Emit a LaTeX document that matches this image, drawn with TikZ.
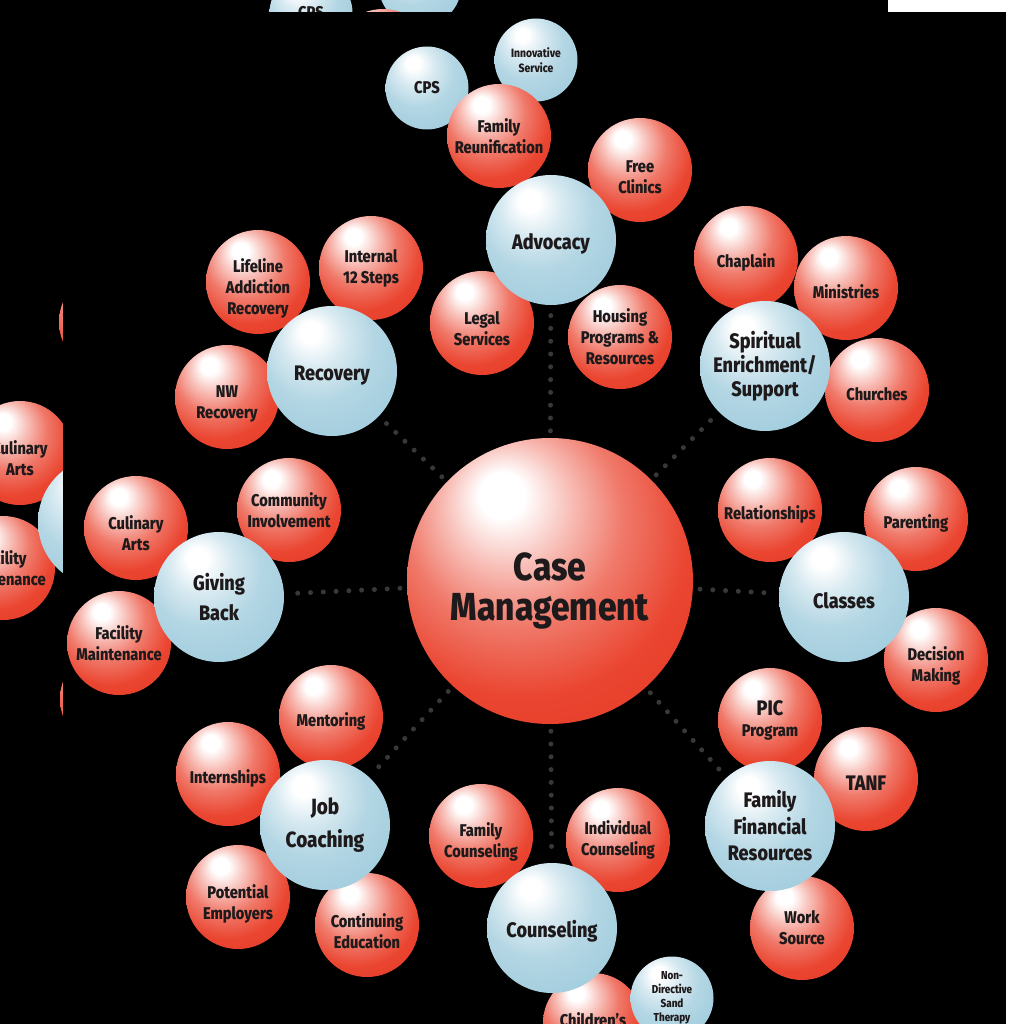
\documentclass[tikz,border=0pt]{standalone}
\usepackage{fontspec}
\newfontfamily\lbl{Fira Sans}[FakeStretch=0.86, BoldFont={Fira Sans ExtraBold}]
\definecolor{rc}{HTML}{EA4530}
\definecolor{re}{HTML}{D92A18}
\definecolor{bc}{HTML}{A6CFDF}
\definecolor{be}{HTML}{88BACE}
\definecolor{tx}{HTML}{1E1A1B}
\definecolor{dotc}{HTML}{383838}
\pgfdeclareradialshading{redsh}{\pgfpoint{-9bp}{16bp}}{color(0bp)=(white); color(4bp)=(white); color(11bp)=(rc!35!white); color(19bp)=(rc!72!white); color(29bp)=(rc); color(62bp)=(re)}
\pgfdeclareradialshading{bluesh}{\pgfpoint{-9bp}{16bp}}{color(0bp)=(white); color(4bp)=(white); color(12bp)=(bc!45!white); color(22bp)=(bc!85!white); color(32bp)=(bc); color(62bp)=(be)}
\tikzset{
  ball/.style={circle, inner sep=0pt, text=tx, align=center},
  rb/.style={ball, shading=redsh, minimum size=104pt, font=\lbl\bfseries\fontsize{17}{21}\selectfont,
    execute at begin node={\rule{0pt}{22pt}}},
  hub/.style={ball, shading=bluesh, minimum size=130pt, font=\lbl\bfseries\fontsize{21}{24}\selectfont,
    execute at begin node={\rule{0pt}{24pt}}},
  sb/.style={ball, shading=bluesh, minimum size=83pt, font=\lbl\bfseries\fontsize{12}{15}\selectfont,
    execute at begin node={\rule{0pt}{12pt}}},
  link/.style={draw=dotc, line width=5pt, line cap=round, dash pattern=on 0pt off 12.8pt, shorten <=7pt, shorten >=7pt},
}
\newcommand\Diagram{%
  % small blue outer balls (behind)
  \node[sb, font=\lbl\bfseries\fontsize{17}{20}\selectfont] (cps) at (427,88) {CPS};
  \node[sb] (inn) at (536,60) {Innovative\\Service};
  % red balls
  \node[rb] (fre) at (499,136) {Family\\Reunification};
  \node[rb] (fcl) at (640,170) {\rule{0pt}{27pt}Free\\Clinics};
  \node[rb] (leg) at (482,323) {\rule{0pt}{25pt}Legal\\Services};
  \node[rb] (hou) at (620,337) {Housing\\Programs \&\\Resources};
  \node[rb] (lif) at (258,282) {\rule{0pt}{27pt}Lifeline\\Addiction\\Recovery};
  \node[rb] (int) at (371,268) {Internal\\12 Steps};
  \node[rb] (nwr) at (227,397) {\rule{0pt}{26pt}NW\\Recovery};
  \node[rb] (cha) at (746,258) {Chaplain};
  \node[rb] (min) at (846,288) {Ministries};
  \node[rb] (chu) at (877,390) {Churches};
  \node[rb] (rel) at (770,510) {Relationships};
  \node[rb] (par) at (916,519) {Parenting};
  \node[rb] (dec) at (936,660) {\rule{0pt}{26pt}Decision\\Making};
  \node[rb] (com) at (289,510) {Community\\Involvement};
  \node[rb] (cul) at (136,528) {\rule{0pt}{25pt}Culinary\\Arts};
  \node[rb] (fac) at (119,643) {Facility\\Maintenance};
  \node[rb] (men) at (331,717) {Mentoring};
  \node[rb] (ins) at (228,774) {Internships};
  \node[rb] (pot) at (238,897) {\rule{0pt}{27pt}Potential\\Employers};
  \node[rb] (con) at (367,925) {\rule{0pt}{26pt}Continuing\\Education};
  \node[rb] (fco) at (481,836) {\rule{0pt}{25pt}Family\\Counseling};
  \node[rb] (ico) at (618,840) {Individual\\Counseling};
  \node[rb, minimum size=100pt, execute at begin node={}] (chi) at (593,1023) {\raisebox{8pt}{Children’s}};
  \node[rb] (pic) at (770,720) {{\fontsize{21}{21}\selectfont PIC}\\Program};
  \node[rb, font=\lbl\bfseries\fontsize{21}{24}\selectfont] (tan) at (866,779) {TANF};
  \node[rb] (wor) at (802,928) {Work\\Source};
  \node[sb, font=\lbl\bfseries\fontsize{11.5}{14}\selectfont] (nds) at (672,998) {Non-\\Directive\\Sand\\Therapy};
  % hubs
  \node[hub] (adv) at (551,240) {Advocacy};
  \node[hub] (rec) at (332,371) {Recovery};
  \node[hub] (spi) at (765,366) {Spiritual\\Enrichment/\\Support};
  \node[hub, font=\lbl\bfseries\fontsize{21}{30}\selectfont] (giv) at (219,597) {Giving\\Back};
  \node[hub] (cla) at (844,597) {Classes};
  \node[hub, font=\lbl\bfseries\fontsize{22}{33}\selectfont] (job) at (325,825) {Job\\Coaching};
  \node[hub] (cou) at (552,928) {Counseling};
  \node[hub, font=\lbl\bfseries\fontsize{21}{26.5}\selectfont] (ffr) at (770,826) {Family\\Financial\\Resources};
  % centre
  \node[ball, shading=redsh, minimum size=286pt, font=\lbl\bfseries\fontsize{39}{40}\selectfont] (cm) at (550,581) {\rule{0pt}{48pt}Case\\Management};
  % dotted connectors
  \foreach \h in {adv,rec,spi,giv,cla,job,cou,ffr}{\draw[link] (cm) -- (\h);}
}
\begin{document}
\begin{tikzpicture}[x=1pt,y=-1pt]
\useasboundingbox (0,0) rectangle (1024,1024);
\fill[white] (0,0) rectangle (1024,1024);
% back copy, visible in the top and left strips
\begin{scope}
  \clip (0,0) rectangle (888,12) (0,0) rectangle (63,1024);
  \fill[black] (0,0) rectangle (888,1024);
  \begin{scope}[shift={(-116,-75)}, name prefix=b-]
    \Diagram
  \end{scope}
\end{scope}
% main picture
\begin{scope}
  \clip (63,12) rectangle (1006,1024);
  \fill[black] (63,12) rectangle (1006,1024);
  \Diagram
\end{scope}
\end{tikzpicture}
\end{document}
